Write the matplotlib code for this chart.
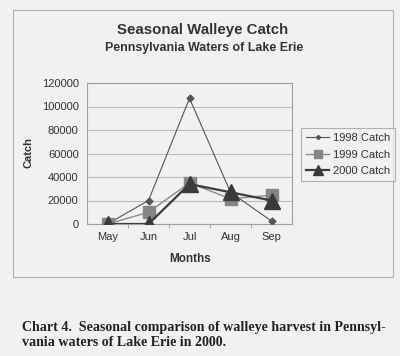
import matplotlib
matplotlib.use("Agg")
import matplotlib.pyplot as plt
from matplotlib.patches import Rectangle

# Data
MONTHS = ["May", "Jun", "Jul", "Aug", "Sep"]
CATCH_1998 = [0, 20000, 107000, 27000, 2500]
CATCH_1999 = [0, 10000, 35000, 21500, 24500]
CATCH_2000 = [0, 0, 34000, 27000, 20000]
Y_TICKS = [0, 20000, 40000, 60000, 80000, 100000, 120000]

W, H = 400, 356
PAPER = "#f1f1f1"

plt.rcParams["font.family"] = ["Liberation Sans", "DejaVu Sans"]

fig = plt.figure(figsize=(W / 100, H / 100), dpi=100, facecolor=PAPER)


def fx(px):
    return px / W


def fy(py):
    return 1 - py / H


# outer chart frame
fig.patches.append(Rectangle((fx(13), fy(277)), fx(380), (277 - 10) / H,
                             transform=fig.transFigure, fill=False,
                             edgecolor="#b0b0b0", linewidth=0.8))

fig.text(fx(203), fy(30), "Seasonal Walleye Catch", ha="center", va="center",
         fontsize=10.8, fontweight="bold", color="#333333")
fig.text(fx(204), fy(48), "Pennsylvania Waters of Lake Erie", ha="center", va="center",
         fontsize=8.9, fontweight="bold", color="#333333")

ax = fig.add_axes([fx(87), fy(224), fx(205), 141 / H])
ax.set_facecolor(PAPER)
x = range(len(MONTHS))

ax.plot(x, CATCH_1998, color="#555555", linewidth=0.8, marker="D",
        markersize=3.5, label="1998 Catch", zorder=3)
ax.plot(x, CATCH_1999, color="#8a8a8a", linewidth=1.0, marker="s",
        markersize=9, markerfacecolor="#858585", markeredgecolor="#858585",
        label="1999 Catch", zorder=4)
ax.plot(x, CATCH_2000, color="#3c3c3c", linewidth=1.6, marker="^",
        markersize=12, markerfacecolor="#3a3a3a", markeredgecolor="#3a3a3a",
        label="2000 Catch", zorder=5)

ax.set_xlim(-0.5, len(MONTHS) - 0.5)
ax.set_ylim(0, 120000)
ax.set_xticks(list(x))
ax.set_xticklabels(MONTHS)
ax.set_xticks([i + 0.5 for i in range(len(MONTHS) - 1)], minor=True)
ax.set_yticks(Y_TICKS)
ax.set_yticklabels([str(v) for v in Y_TICKS])
ax.tick_params(axis="both", labelsize=8, colors="#333333", length=0, pad=6)
ax.tick_params(axis="x", which="minor", length=3, color="#999999")
ax.yaxis.grid(True, color="#bbbbbb", linewidth=0.8)
ax.set_axisbelow(True)
for s in ax.spines.values():
    s.set_color("#a0a0a0")
    s.set_linewidth(0.8)

fig.text(fx(29), fy(153), "Catch", rotation=90, ha="center", va="center",
         fontsize=8, fontweight="bold", color="#333333")
fig.text(fx(190), fy(259), "Months", ha="center", va="center",
         fontsize=8.5, fontweight="bold", color="#333333")

leg = fig.legend(loc="upper left", bbox_to_anchor=(fx(301), fy(128)),
                 borderaxespad=0, fontsize=8, frameon=True, fancybox=False,
                 handlelength=2.1, handletextpad=0.3, borderpad=0.45,
                 labelspacing=0.6, markerscale=0.6)
leg.get_frame().set_edgecolor("#a0a0a0")
leg.get_frame().set_linewidth(0.8)
leg.get_frame().set_facecolor(PAPER)
for t in leg.get_texts():
    t.set_color("#333333")

caption = ("Chart 4.  Seasonal comparison of walleye harvest in Pennsyl-\n"
           "vania waters of Lake Erie in 2000.")
fig.text(fx(22), fy(335), caption, ha="left", va="center",
         family=["Liberation Serif", "DejaVu Serif"], fontsize=10.1,
         fontweight="bold", color="#222222", linespacing=1.2)

fig.savefig("out.png", dpi=100, facecolor=PAPER)
